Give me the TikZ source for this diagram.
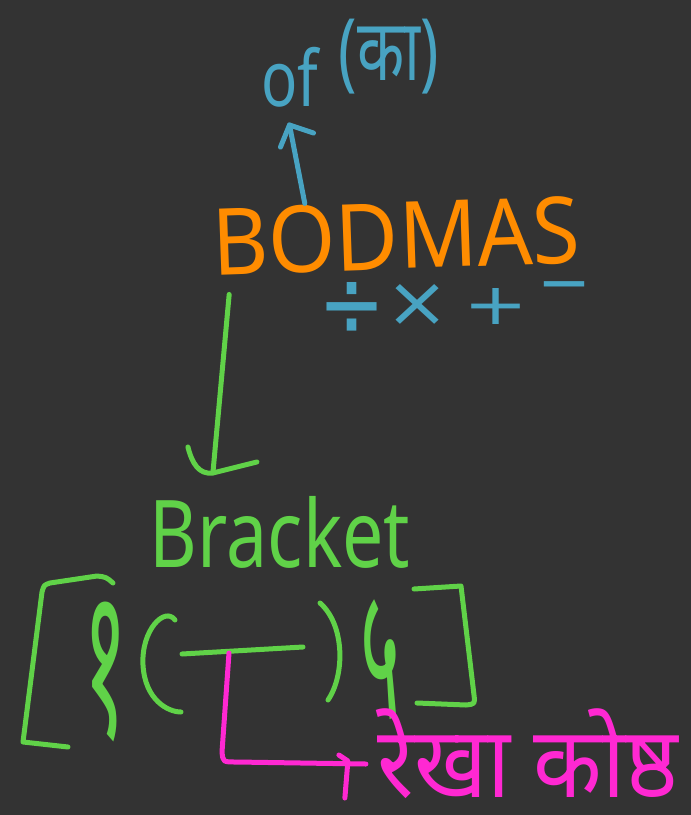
\documentclass[tikz,border=0pt]{standalone}
\usepackage{fontspec}
\usepackage{graphicx}
\setmainfont{Noto Sans}
\newfontfamily\deva[Script=Devanagari]{Noto Sans}
\newfontfamily\symfont{DejaVu Sans}

\definecolor{board}{RGB}{51,51,51}
\definecolor{inkorange}{RGB}{255,140,0}
\definecolor{inkblue}{RGB}{72,163,194}
\definecolor{inkgreen}{RGB}{96,210,72}
\definecolor{inkpink}{RGB}{255,40,210}

\tikzset{
  word/.style={inner sep=0pt, outer sep=0pt, anchor=center},
  pen/.style={line width=5pt, line cap=round, line join=round},
  bluepen/.style={pen, draw=inkblue},
  greenpen/.style={pen, draw=inkgreen},
  pinkpen/.style={pen, draw=inkpink},
}

\begin{document}
\begin{tikzpicture}[x=1pt, y=-1pt]
  % board
  \fill[board] (0,0) rectangle (691,815);
  \useasboundingbox (0,0) rectangle (691,815);

  % headings
  \node[word, text=inkorange, rotate=2] (bodmas) at (396,236)
    {\resizebox*{368pt}{68pt}{BODMAS}};
  \node[word, text=inkblue] (of) at (290,77)
    {\resizebox*{57pt}{60pt}{of}};
  \node[word, text=inkblue] (ka) at (389,57)
    {\resizebox*{100pt}{75pt}{({\deva का})}};

  % operation signs under D, M, A, S
  \node[word, text=inkblue] (div)   at (352,310) {\resizebox*{67pt}{56pt}{\symfont ÷}};
  \node[word, text=inkblue] (times) at (418,305) {\resizebox*{64pt}{42pt}{\symfont ×}};
  \node[word, text=inkblue] (plus)  at (496,306) {\resizebox*{65pt}{36pt}{\symfont +}};
  \node[word, text=inkblue] (minus) at (564,293) {\resizebox{54pt}{!}{\symfont −}};

  \node[word, text=inkgreen] (bracket) at (280,532)
    {\resizebox*{260pt}{72pt}{Bracket}};

  % numerals inside the brackets
  \node[word, text=inkgreen] (one)  at (106,672) {\resizebox*{44pt}{140pt}{\deva १}};
  \node[word, text=inkgreen] (five) at (381,660) {\resizebox*{40pt}{120pt}{\deva ५}};

  \node[word, text=inkpink] (vlabel) at (528,754)
    {\resizebox*{300pt}{90pt}{\deva रेखा कोष्ठ}};

  % O -> of
  \coordinate (ofTip) at ([xshift=28pt,yshift=-18pt]of.south west);
  \draw[bluepen] ([xshift=94pt,yshift=5pt]bodmas.north west) -- (ofTip);
  \draw[bluepen] (ofTip) ++(-9,22) -- (ofTip) -- ++(24,8);

  % B -> Bracket
  \coordinate (brTip) at ([xshift=63pt,yshift=23pt]bracket.north west);
  \draw[greenpen] ([xshift=16pt,yshift=-18pt]bodmas.south west) -- (brTip);
  \draw[greenpen] (brTip) ++(-25,-26) .. controls +(4,16) and +(-14,2) .. (brTip) -- ++(44,-11);

  % square bracket [ ]
  \draw[greenpen] (113,583) .. controls (106,577) .. (97,576) -- (50,583)
    .. controls (44,585) .. (42,592) -- (23,742) -- (68,747);
  \draw[greenpen] (414,589) -- (461,586) -- (474,695)
    .. controls (475,704) .. (466,705) -- (417,703);

  % round bracket ( )
  \draw[greenpen] (175,620) .. controls (165,606) and (141,630) .. (143,665)
    .. controls (145,700) and (168,712) .. (181,712);
  \draw[greenpen] (320,603) .. controls (345,625) and (345,675) .. (328,700);

  % bar bracket
  \coordinate (vincL) at (182,654);
  \coordinate (vincR) at (303,647);
  \coordinate (vincMid) at (229,653);
  \draw[greenpen] (vincL) -- (vincR);

  % bar -> label
  \coordinate (pEnd) at ([xshift=-12pt,yshift=-10pt]vlabel.west);
  \draw[pinkpen] (vincMid) -- (222,752) .. controls (223,762) .. (236,762) -- (pEnd);
  \draw[pinkpen] (pEnd) ++(-27,-9) -- ++(9,6) .. controls +(-1,18) .. ++(-3,37);
\end{tikzpicture}
\end{document}
